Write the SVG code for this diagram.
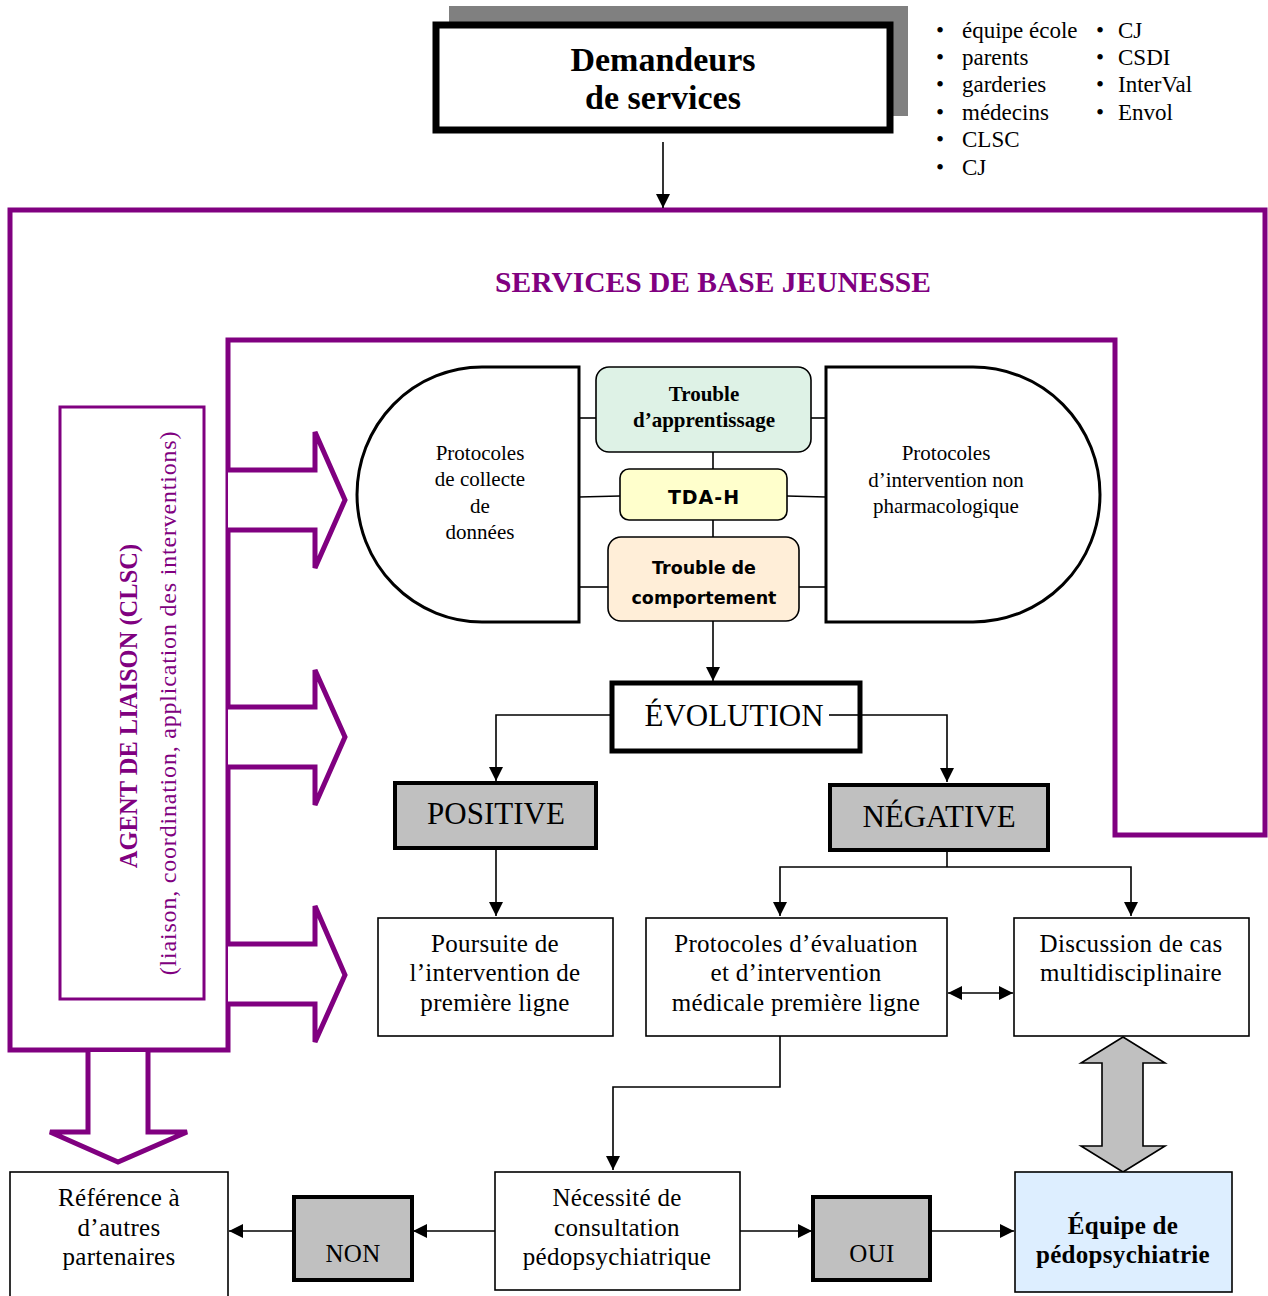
<svg xmlns="http://www.w3.org/2000/svg" width="1268" height="1296" viewBox="0 0 1268 1296">
<style>
text{font-family:"Liberation Serif","DejaVu Serif",serif;fill:#000}
.t{font-size:25px;text-anchor:middle;letter-spacing:0.3px}
.d{font-size:21px;text-anchor:middle}
.cap{font-size:31px;text-anchor:middle}
.b{font-weight:bold}
.pur{fill:none;stroke:#800080;stroke-width:5}
.box{fill:#fff;stroke:#000;stroke-width:1.6}
.gray{fill:#c0c0c0;stroke:#000;stroke-width:4}
.ln{fill:none;stroke:#000;stroke-width:1.6}
.comic{font-family:"DejaVu Sans",sans-serif;font-weight:bold;text-anchor:middle}
</style>
<defs>
<marker id="ah2" viewBox="0 0 10 10" refX="10" refY="5" markerWidth="14" markerHeight="14" markerUnits="userSpaceOnUse" orient="auto-start-reverse"><path d="M0,0 L10,5 L0,10 Z" fill="#000"/></marker>
</defs>

<!-- purple frame and arrows -->
<g id="frame">
<polygon class="pur" points="10,210 1265,210 1265,835 1115,835 1115,340 228,340 228,1050 10,1050"/>
<text x="713" y="292" text-anchor="middle" font-size="29.5" font-weight="bold" style="fill:#800080">SERVICES DE BASE JEUNESSE</text>
<polyline class="pur" style="fill:#fff" points="228,470 315,470 315,432 345,500 315,568 315,530 228,530"/>
<polyline class="pur" style="fill:#fff" points="228,707 315,707 315,670 345,737 315,805 315,767 228,767"/>
<polyline class="pur" style="fill:#fff" points="228,944 315,944 315,906 345,975 315,1042 315,1004 228,1004"/>
<polyline class="pur" style="fill:#fff" points="88,1052 88,1132 50,1132 118,1162 187,1132 148,1132 148,1052"/>
</g>

<g id="agent">
<rect x="60" y="407" width="144" height="592" fill="none" stroke="#800080" stroke-width="3"/>
<text transform="translate(137,706) rotate(-90)" text-anchor="middle" font-size="24.5" font-weight="bold" style="fill:#800080">AGENT DE LIAISON (CLSC)</text>
<text transform="translate(176,703) rotate(-90)" text-anchor="middle" font-size="24" letter-spacing="0.8" style="fill:#800080">(liaison, coordination, application des interventions)</text>
</g>

<!-- connectors -->
<g id="connectors">
<line class="ln" x1="663" y1="142" x2="663" y2="208" marker-end="url(#ah2)"/>
<line class="ln" x1="576" y1="418" x2="596" y2="418"/>
<line class="ln" x1="579" y1="497" x2="620" y2="496"/>
<line class="ln" x1="576" y1="587" x2="608" y2="587"/>
<line class="ln" x1="811" y1="418" x2="829" y2="418"/>
<line class="ln" x1="787" y1="496" x2="826" y2="497"/>
<line class="ln" x1="799" y1="587" x2="829" y2="587"/>
<line class="ln" x1="713" y1="452" x2="713" y2="469"/>
<line class="ln" x1="713" y1="520" x2="713" y2="537"/>
<line class="ln" x1="713" y1="621" x2="713" y2="681" marker-end="url(#ah2)"/>
<polyline class="ln" points="612,715 496,715 496,781" marker-end="url(#ah2)"/>
<polyline class="ln" points="830,715 947,715 947,782" marker-end="url(#ah2)"/>
<line class="ln" x1="496" y1="848" x2="496" y2="916" marker-end="url(#ah2)"/>
<line class="ln" x1="947" y1="850" x2="947" y2="867"/>
<polyline class="ln" points="780,916 780,867 1131,867 1131,916" marker-start="url(#ah2)" marker-end="url(#ah2)"/>
<line class="ln" x1="948" y1="993" x2="1013" y2="993" marker-start="url(#ah2)" marker-end="url(#ah2)"/>
<polyline class="ln" points="780,1036 780,1087 613,1087 613,1170" marker-end="url(#ah2)"/>
<line class="ln" x1="495" y1="1231" x2="413" y2="1231" marker-end="url(#ah2)"/>
<line class="ln" x1="294" y1="1231" x2="229" y2="1231" marker-end="url(#ah2)"/>
<line class="ln" x1="740" y1="1231" x2="812" y2="1231" marker-end="url(#ah2)"/>
<line class="ln" x1="930" y1="1231" x2="1014" y2="1231" marker-end="url(#ah2)"/>
<polygon points="1123,1037 1165,1063 1143,1063 1143,1146 1165,1146 1123,1172 1081,1146 1102,1146 1102,1063 1081,1063" fill="#c0c0c0" stroke="#000" stroke-width="1.6"/>
</g>

<g id="demandeurs">
<rect x="449" y="6" width="459" height="110" fill="#808080"/>
<rect x="436" y="25" width="454" height="105" fill="#fff" stroke="#000" stroke-width="7"/>
<text x="663" y="71" text-anchor="middle" font-size="34" font-weight="bold">Demandeurs</text>
<text x="663" y="109" text-anchor="middle" font-size="34" font-weight="bold">de services</text>
</g>

<g id="liste" font-size="23">
<text x="936" y="38">•</text><text x="962" y="38">équipe école</text>
<text x="936" y="65">•</text><text x="962" y="65">parents</text>
<text x="936" y="92">•</text><text x="962" y="92">garderies</text>
<text x="936" y="120">•</text><text x="962" y="120">médecins</text>
<text x="936" y="147">•</text><text x="962" y="147">CLSC</text>
<text x="936" y="175">•</text><text x="962" y="175">CJ</text>
<text x="1096" y="38">•</text><text x="1118" y="38">CJ</text>
<text x="1096" y="65">•</text><text x="1118" y="65">CSDI</text>
<text x="1096" y="92">•</text><text x="1118" y="92">InterVal</text>
<text x="1096" y="120">•</text><text x="1118" y="120">Envol</text>
</g>

<g id="collecte">
<path d="M579,367 L482,367 A125,127.5 0 0 0 482,622 L579,622 Z" fill="#fff" stroke="#000" stroke-width="3"/>
<text class="d" x="480" y="460">Protocoles</text>
<text class="d" x="480" y="486">de collecte</text>
<text class="d" x="480" y="513">de</text>
<text class="d" x="480" y="539">données</text>
</g>

<g id="intervention">
<path d="M826,367 L973,367 A127,127.5 0 0 1 973,622 L826,622 Z" fill="#fff" stroke="#000" stroke-width="3"/>
<text class="d" x="946" y="460" font-size="21.5">Protocoles</text>
<text class="d" x="946" y="487" font-size="21.5">d’intervention non</text>
<text class="d" x="946" y="513" font-size="21.5">pharmacologique</text>
</g>

<g id="apprentissage">
<rect x="596" y="367" width="215" height="85" rx="13" fill="#def2e6" stroke="#000" stroke-width="1.6"/>
<text class="d b" x="704" y="401" font-size="21.5">Trouble</text>
<text class="d b" x="704" y="427" font-size="21.5">d’apprentissage</text>
</g>

<g id="tdah">
<rect x="620" y="469" width="167" height="51" rx="9" fill="#ffffcc" stroke="#000" stroke-width="1.6"/>
<text class="comic" x="704" y="504" font-size="19" letter-spacing="1">TDA-H</text>
</g>

<g id="comportement">
<rect x="608" y="537" width="191" height="84" rx="13" fill="#ffeed8" stroke="#000" stroke-width="1.6"/>
<text class="comic" x="704" y="574" font-size="17.5">Trouble de</text>
<text class="comic" x="704" y="604" font-size="17.5">comportement</text>
</g>

<g id="evolution">
<rect x="612" y="683" width="248" height="68" fill="#fff" stroke="#000" stroke-width="5"/>
<text class="cap" x="734" y="726">ÉVOLUTION</text>
</g>
<line class="ln" x1="829" y1="715" x2="860" y2="715"/>

<g id="positive">
<rect x="395" y="783" width="201" height="65" class="gray"/>
<text class="cap" x="496" y="824" font-size="30">POSITIVE</text>
</g>

<g id="negative">
<rect x="830" y="785" width="218" height="65" class="gray"/>
<text class="cap" x="939" y="827">NÉGATIVE</text>
</g>

<g id="poursuite">
<rect x="378" y="918" width="235" height="118" class="box"/>
<text class="t" x="495" y="952">Poursuite de</text>
<text class="t" x="495" y="981">l’intervention de</text>
<text class="t" x="495" y="1011">première ligne</text>
</g>

<g id="protocoles-eval">
<rect x="646" y="918" width="301" height="118" class="box"/>
<text class="t" x="796" y="952">Protocoles d’évaluation</text>
<text class="t" x="796" y="981">et d’intervention</text>
<text class="t" x="796" y="1011">médicale première ligne</text>
</g>

<g id="discussion">
<rect x="1014" y="918" width="235" height="118" class="box"/>
<text class="t" x="1131" y="952">Discussion de cas</text>
<text class="t" x="1131" y="981">multidisciplinaire</text>
</g>

<g id="reference">
<rect x="10" y="1172" width="218" height="130" class="box"/>
<text class="t" x="119" y="1206">Référence à</text>
<text class="t" x="119" y="1236">d’autres</text>
<text class="t" x="119" y="1265">partenaires</text>
</g>

<g id="non">
<rect x="294" y="1197" width="118" height="83" class="gray"/>
<text class="t" x="353" y="1262" font-size="26">NON</text>
</g>

<g id="necessite">
<rect x="495" y="1172" width="245" height="118" class="box"/>
<text class="t" x="617" y="1206">Nécessité de</text>
<text class="t" x="617" y="1236">consultation</text>
<text class="t" x="617" y="1265">pédopsychiatrique</text>
</g>

<g id="oui">
<rect x="813" y="1197" width="117" height="83" class="gray"/>
<text class="t" x="872" y="1262" font-size="26">OUI</text>
</g>

<g id="equipe">
<rect x="1015" y="1172" width="217" height="120" fill="#ddeeff" stroke="#000" stroke-width="1.6"/>
<text class="t b" x="1123" y="1234">Équipe de</text>
<text class="t b" x="1123" y="1263">pédopsychiatrie</text>
</g>
</svg>
